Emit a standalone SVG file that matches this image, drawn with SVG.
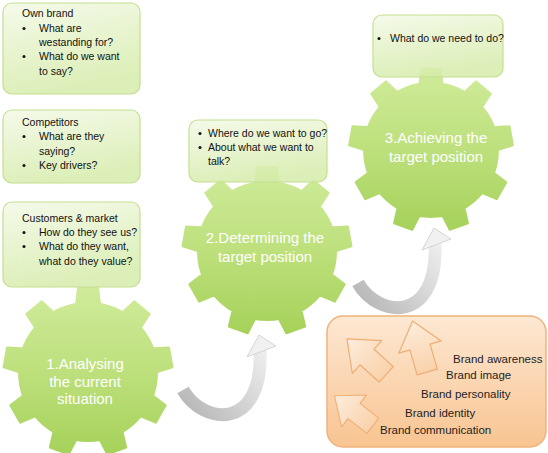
<svg xmlns="http://www.w3.org/2000/svg" width="548" height="453" viewBox="0 0 548 453">
<style>
.gear{fill:url(#gearGrad);stroke:url(#gearGrad);stroke-width:2;stroke-linejoin:round}
.box{fill:url(#boxGrad);fill-opacity:0.85;stroke:#c4df90;stroke-width:1.2}
.bt{font-family:"Liberation Sans",Arial,sans-serif;font-size:10.5px;fill:#111}
.gt{font-family:"Liberation Sans",Arial,sans-serif;font-size:15px;fill:#ffffff;text-anchor:middle}
.pt{font-family:"Liberation Sans",Arial,sans-serif;font-size:11.5px;fill:#1e1e1e}
.dot{fill:#111}
.blk{fill:url(#peachArrow);stroke:#f0ad74;stroke-width:1.2;stroke-linejoin:round}
.band{fill:none;stroke:url(#curlGrad);stroke-width:13}
.head{fill:#f1f1f1;stroke:#cdcdcd;stroke-width:0.8;stroke-linejoin:round}
</style>
<defs>
<linearGradient id="gearGrad" gradientUnits="userSpaceOnUse" x1="0" y1="-85" x2="0" y2="85">
<stop offset="0" stop-color="#d0eb9a"/>
<stop offset="0.5" stop-color="#bde07c"/>
<stop offset="1" stop-color="#a5d159"/>
</linearGradient>
<linearGradient id="boxGrad" x1="0" y1="0" x2="0.3" y2="1">
<stop offset="0" stop-color="#f3f9e6"/>
<stop offset="1" stop-color="#d6ecab"/>
</linearGradient>
<linearGradient id="panelGrad" x1="0" y1="0" x2="0" y2="1">
<stop offset="0" stop-color="#fde8d3"/>
<stop offset="1" stop-color="#f8c491"/>
</linearGradient>
<linearGradient id="peachArrow" x1="0" y1="0" x2="0" y2="1">
<stop offset="0" stop-color="#fdeddc"/>
<stop offset="1" stop-color="#f9d2ab"/>
</linearGradient>
<linearGradient id="curlGrad" gradientUnits="userSpaceOnUse" x1="185" y1="410" x2="265" y2="345">
<stop offset="0" stop-color="#b7b7b7"/>
<stop offset="0.5" stop-color="#d4d4d4"/>
<stop offset="1" stop-color="#f0f0f0"/>
</linearGradient>
<path id="gearShape" d="M-69,0 A69,69 0 1,1 69,0 A69,69 0 1,1 -69,0 Z
M-12.5,-64 L-10,-84 L10,-84 L12.5,-64 Z
M31.57,-57.06 L46.34,-70.77 L61.66,-57.92 L50.71,-40.99 Z
M60.86,-23.42 L80.99,-24.43 L84.46,-4.73 L65.2,1.2 Z
M61.67,21.17 L77.74,33.34 L67.74,50.66 L49.17,42.83 Z
M33.64,55.87 L38.13,75.51 L19.33,82.35 L10.14,64.42 Z
M-10.14,64.42 L-19.33,82.35 L-38.13,75.51 L-33.64,55.87 Z
M-49.17,42.83 L-67.74,50.66 L-77.74,33.34 L-61.67,21.17 Z
M-65.2,1.2 L-84.46,-4.73 L-80.99,-24.43 L-60.86,-23.42 Z
M-50.71,-40.99 L-61.66,-57.92 L-46.34,-70.77 L-31.57,-57.06 Z"/>
<path id="block" d="M0,-27 L22,0 L10.5,0 L10.5,26 L-10.5,26 L-10.5,0 L-22,0 Z"/>
</defs>

<g id="gear1">
<use href="#gearShape" class="gear" transform="translate(88,372)"/>
<text class="gt" x="85" y="369">1.Analysing</text>
<text class="gt" x="85" y="387">the current</text>
<text class="gt" x="85" y="404">situation</text>
</g>
<g id="gear2">
<use href="#gearShape" class="gear" transform="translate(267,251)"/>
<text class="gt" x="265" y="243">2.Determining the</text>
<text class="gt" x="265" y="262">target position</text>
</g>
<g id="gear3">
<use href="#gearShape" class="gear" transform="translate(431,150) scale(0.97)"/>
<text class="gt" x="436" y="143">3.Achieving the</text>
<text class="gt" x="436" y="162">target position</text>
</g>

<g id="box-own-brand">
<rect class="box" x="3" y="3" width="137" height="91" rx="9"/>
<text class="bt" x="22" y="17">Own brand</text>
<circle class="dot" cx="24" cy="28.5" r="1.5"/>
<text class="bt" x="39" y="32">What are</text>
<text class="bt" x="39" y="46">westanding for?</text>
<circle class="dot" cx="24" cy="56.5" r="1.5"/>
<text class="bt" x="39" y="60">What do we want</text>
<text class="bt" x="39" y="75">to say?</text>
</g>
<g id="box-competitors">
<rect class="box" x="3" y="110" width="137" height="73" rx="9"/>
<text class="bt" x="22" y="126">Competitors</text>
<circle class="dot" cx="24" cy="136.5" r="1.5"/>
<text class="bt" x="39" y="140">What are they</text>
<text class="bt" x="39" y="155">saying?</text>
<circle class="dot" cx="24" cy="165.5" r="1.5"/>
<text class="bt" x="39" y="169">Key drivers?</text>
</g>
<g id="box-customers">
<rect class="box" x="3" y="202" width="137" height="85" rx="9"/>
<text class="bt" x="22" y="222">Customers &amp; market</text>
<circle class="dot" cx="24" cy="232.5" r="1.5"/>
<text class="bt" x="39" y="236">How do they see us?</text>
<circle class="dot" cx="24" cy="246.5" r="1.5"/>
<text class="bt" x="39" y="250">What do they want,</text>
<text class="bt" x="39" y="265">what do they value?</text>
</g>
<g id="box-determine">
<rect class="box" x="189" y="120" width="138" height="62" rx="9"/>
<circle class="dot" cx="200" cy="133.5" r="1.5"/>
<text class="bt" x="208" y="137">Where do we want to go?</text>
<circle class="dot" cx="200" cy="147.5" r="1.5"/>
<text class="bt" x="208" y="151">About what we want to</text>
<text class="bt" x="208" y="165">talk?</text>
</g>
<g id="box-achieve">
<rect class="box" x="373" y="15" width="130" height="62" rx="9"/>
<circle class="dot" cx="379" cy="38.5" r="1.5"/>
<text class="bt" x="390" y="42">What do we need to do?</text>
</g>

<g id="brand-panel">
<rect x="327" y="316" width="219" height="131" rx="16" fill="url(#panelGrad)" stroke="#f1b27c" stroke-width="1.5"/>
<use href="#block" class="blk" transform="translate(367,357) rotate(-48)"/>
<use href="#block" class="blk" transform="translate(420,347) rotate(-16)"/>
<use href="#block" class="blk" transform="translate(354,411) rotate(-52) scale(0.92)"/>
<text class="pt" x="453" y="363">Brand awareness</text>
<text class="pt" x="446" y="379">Brand image</text>
<text class="pt" x="421" y="398">Brand personality</text>
<text class="pt" x="405" y="417">Brand identity</text>
<text class="pt" x="380" y="434">Brand communication</text>
</g>

<g id="connectors">
<g id="arrow-1-2">
<path class="band" d="M183,390 C203,425 264,432 260,349"/>
<path class="head" d="M247,357 L259,335 L276,346 Z"/>
</g>
<g id="arrow-2-3" transform="translate(175,-107)">
<path class="band" d="M183,390 C203,425 264,432 260,349"/>
<path class="head" d="M247,357 L259,335 L276,346 Z"/>
</g>
</g>
</svg>
